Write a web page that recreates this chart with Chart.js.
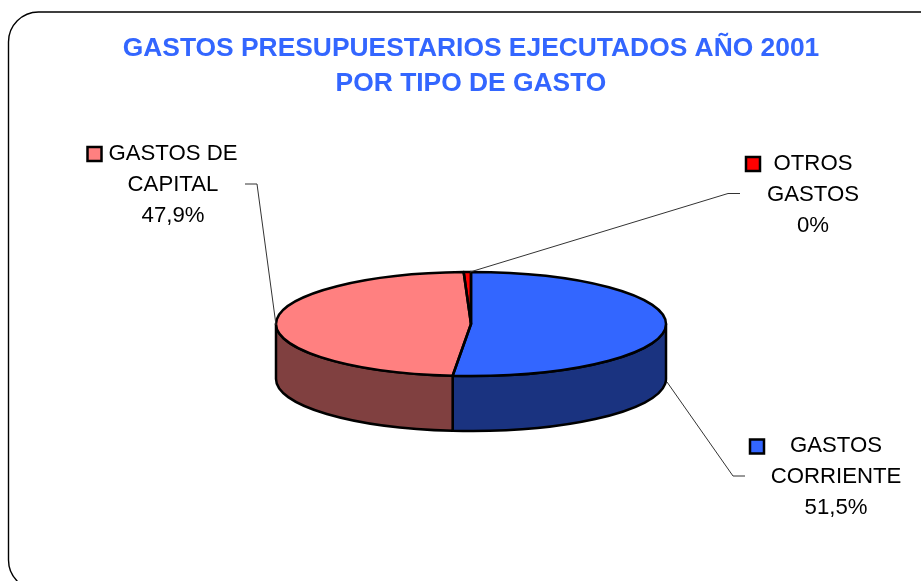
<!DOCTYPE html>
<html>
<head>
<meta charset="utf-8">
<title>Gastos presupuestarios 2001</title>
<script src="https://cdn.jsdelivr.net/npm/chart.js@4/dist/chart.umd.min.js"></script>
<style>
  html, body { margin: 0; padding: 0; background: #fff; }
  #wrap { position: relative; width: 921px; height: 581px; overflow: hidden; }
</style>
</head>
<body>
<div id="wrap"><canvas id="pie" width="921" height="581"></canvas></div>
<script>
// Data
const categories = ["GASTOS CORRIENTE", "GASTOS DE CAPITAL", "OTROS GASTOS"];
const values = [51.5, 47.9, 0.6];
const percentLabels = ["51,5%", "47,9%", "0%"];
const topColors = ["#3366FF", "#FF8080", "#FF0000"];
const sideColors = ["#1A3380", "#804040", "#800000"];
const titleLines = ["GASTOS PRESUPUESTARIOS EJECUTADOS AÑO 2001", "POR TIPO DE GASTO"];

// Look of the tilted pie
const SQUASH = 52 / 195;
const DEPTH = 55;
const FONT = '22.2px "Liberation Sans", Arial, sans-serif';

// Label boxes, same order as categories
const labelBoxes = [
  { lines: ["GASTOS", "CORRIENTE", percentLabels[0]], cx: 836, y: 446, key: [750, 439.5], leader: [[745, 476], [733, 476], [667, 382]] },
  { lines: ["GASTOS DE", "CAPITAL", percentLabels[1]], cx: 173, y: 154, key: [87.5, 147], leader: [[245, 184], [257, 184], [276, 325]] },
  { lines: ["OTROS", "GASTOS", percentLabels[2]], cx: 813, y: 164, key: [746, 157], leader: [[740, 193.5], [728, 193.5], [470, 272]] },
];

// Frame behind everything (it runs off the right and bottom of the page)
const framePlugin = {
  id: "frame",
  beforeDraw(chart) {
    const ctx = chart.ctx;
    ctx.save();
    ctx.fillStyle = "#fff";
    ctx.fillRect(0, 0, chart.width, chart.height);
    ctx.beginPath();
    ctx.roundRect(8.5, 12, 960, 578, 30);
    ctx.lineWidth = 1.4;
    ctx.strokeStyle = "#000";
    ctx.stroke();
    ctx.restore();
  },
};

// Draws the side wall, then squashes the slices that Chart.js draws
const tiltPlugin = {
  id: "tilt",
  beforeDatasetsDraw(chart) {
    const ctx = chart.ctx;
    const arcs = chart.getDatasetMeta(0).data;
    arcs.forEach(function (arc, i) {
      const a = Math.max(arc.startAngle, 0);
      const b = Math.min(arc.endAngle, Math.PI);
      if (a >= b) return;
      const ry = arc.outerRadius * SQUASH;
      ctx.save();
      ctx.beginPath();
      ctx.ellipse(arc.x, arc.y, arc.outerRadius, ry, 0, a, b);
      ctx.ellipse(arc.x, arc.y + DEPTH, arc.outerRadius, ry, 0, b, a, true);
      ctx.closePath();
      ctx.fillStyle = sideColors[i];
      ctx.fill();
      ctx.lineWidth = 2.5;
      ctx.lineJoin = "round";
      ctx.strokeStyle = "#000";
      ctx.stroke();
      ctx.restore();
    });
    const c = arcs[0];
    ctx.save();
    ctx.translate(c.x, c.y);
    ctx.scale(1, SQUASH);
    ctx.translate(-c.x, -c.y);
  },
  afterDatasetsDraw(chart) {
    const ctx = chart.ctx;
    ctx.restore();
    // outlines of the top, stroked unsquashed so the line stays even
    chart.getDatasetMeta(0).data.forEach(function (arc) {
      ctx.save();
      ctx.beginPath();
      ctx.moveTo(arc.x, arc.y);
      ctx.ellipse(arc.x, arc.y, arc.outerRadius, arc.outerRadius * SQUASH, 0, arc.startAngle, arc.endAngle);
      ctx.closePath();
      ctx.lineWidth = 2.5;
      ctx.lineJoin = "round";
      ctx.strokeStyle = "#000";
      ctx.stroke();
      ctx.restore();
    });
  },
};

// Labels with key squares and leader lines
const calloutPlugin = {
  id: "callouts",
  afterDraw(chart) {
    const ctx = chart.ctx;
    ctx.save();
    labelBoxes.forEach(function (box, i) {
      ctx.beginPath();
      box.leader.forEach(function (p, n) {
        if (n === 0) ctx.moveTo(p[0], p[1]);
        else ctx.lineTo(p[0], p[1]);
      });
      ctx.lineWidth = 1;
      ctx.strokeStyle = "#333";
      ctx.stroke();

      ctx.fillStyle = topColors[i];
      ctx.fillRect(box.key[0], box.key[1], 14, 14);
      ctx.lineWidth = 2.5;
      ctx.strokeStyle = "#000";
      ctx.strokeRect(box.key[0], box.key[1], 14, 14);

      ctx.fillStyle = "#000";
      ctx.font = FONT;
      ctx.textAlign = "center";
      ctx.textBaseline = "middle";
      box.lines.forEach(function (line, n) {
        ctx.fillText(line, box.cx, box.y + n * 31);
      });
    });
    ctx.restore();
  },
};

Chart.defaults.font.family = '"Liberation Sans", Arial, sans-serif';

const pieChart = new Chart(document.getElementById("pie"), {
  type: "pie",
  data: {
    labels: categories,
    datasets: [
      {
        data: values,
        backgroundColor: topColors,
        borderWidth: 0,
        hoverOffset: 0,
      },
    ],
  },
  options: {
    responsive: false,
    animation: false,
    layout: {
      padding: { left: 21, right: 0, top: 31, bottom: 62 },
    },
    plugins: {
      legend: { display: false },
      tooltip: { enabled: false },
      title: {
        display: true,
        text: titleLines,
        color: "#3366FF",
        font: { size: 26.4, weight: "bold", lineHeight: 35 / 26.4 },
        padding: { top: 0, bottom: 28 },
      },
    },
  },
  plugins: [framePlugin, tiltPlugin, calloutPlugin],
});
</script>
</body>
</html>
